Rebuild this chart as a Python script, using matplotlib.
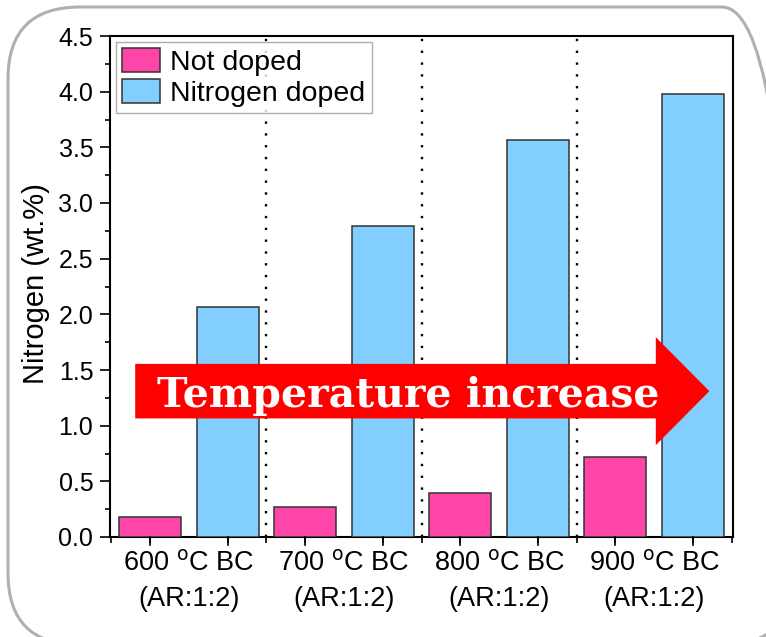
import matplotlib.pyplot as plt
from matplotlib.patches import FancyBboxPatch, FancyArrow
from matplotlib.ticker import MultipleLocator, FixedLocator
from matplotlib.transforms import IdentityTransform

plt.rcParams['font.family'] = ['Liberation Sans', 'DejaVu Sans']

groups = ["600 $^{\\rm o}$C BC\n(AR:1:2)", "700 $^{\\rm o}$C BC\n(AR:1:2)",
          "800 $^{\\rm o}$C BC\n(AR:1:2)", "900 $^{\\rm o}$C BC\n(AR:1:2)"]
not_doped = [0.18, 0.27, 0.395, 0.72]
n_doped = [2.07, 2.79, 3.57, 3.98]

pink = "#ff45a8"
blue = "#82cfff"

fig = plt.figure(figsize=(7.66, 6.37), dpi=100)
# rounded frame around the panel (pixel coords, origin bottom-left)
frame = FancyBboxPatch((8, -8), 786, 638, boxstyle="round,pad=0,rounding_size=72",
                       transform=IdentityTransform(), fill=False, edgecolor="#b0b0b0", lw=2.2)
fig.add_artist(frame)

ax = fig.add_axes([110 / 766, 1 - 537 / 637, 623 / 766, 501 / 637])

xp = [2 * i for i in range(len(groups))]
xb = [2 * i + 1 for i in range(len(groups))]
ax.bar(xp, not_doped, width=0.8, color=pink, edgecolor="#333333", lw=1.1, label="Not doped", zorder=3)
ax.bar(xb, n_doped, width=0.8, color=blue, edgecolor="#333333", lw=1.1, label="Nitrogen doped", zorder=3)

for xv in [1.5, 3.5, 5.5]:
    ax.axvline(xv, color="black", ls=(0, (1, 4)), lw=1.7, zorder=2)

ax.set_xlim(-0.515, 7.515)
ax.set_ylim(0, 4.5)
ax.yaxis.set_minor_locator(MultipleLocator(0.25))
ax.set_yticks([0, 0.5, 1, 1.5, 2, 2.5, 3, 3.5, 4, 4.5])
ax.set_yticklabels([f"{v:.1f}" for v in ax.get_yticks()])

ax.set_xticks([0.5, 2.5, 4.5, 6.5])
ax.set_xticklabels(groups, linespacing=1.45)
ax.tick_params(axis="x", which="major", length=0, labelsize=19.5, pad=10)
ax.xaxis.set_minor_locator(FixedLocator([i * 0.5 - 0.5 for i in range(17)]))
ax.tick_params(axis="x", which="minor", length=4, width=1.2)
for i in range(8):
    ax.plot([i, i], [0, -0.075], color="black", lw=1.2, clip_on=False, zorder=4)
ax.tick_params(axis="y", which="major", length=7, width=1.2, labelsize=18, pad=5)
ax.tick_params(axis="y", which="minor", length=3.5, width=1.2)
ax.set_ylabel("Nitrogen (wt.%)", fontsize=21)
ax.yaxis.set_label_coords(-0.097, 0.505)
for sp in ax.spines.values():
    sp.set_linewidth(1.5)

leg = ax.legend(loc="upper left", fontsize=20.5, frameon=True, fancybox=False, edgecolor="#999999",
                borderaxespad=0.2, handlelength=1.35, handleheight=0.9, handletextpad=0.35,
                borderpad=0.22, labelspacing=0.12)
leg.get_frame().set_linewidth(1.0)
leg.set_zorder(5)

# red arrow
arr = FancyArrow(-0.19, 1.31, 7.40, 0, width=0.49, head_width=0.97, head_length=0.69,
                 length_includes_head=True, color="#ff0000", lw=0, zorder=6)
ax.add_patch(arr)
ax.text(3.33, 1.165, "Temperature increase", color="white", fontsize=29.5, fontweight="bold",
        family=["DejaVu Serif"], ha="center", va="baseline", zorder=7)

fig.savefig("out.png", dpi=100)
